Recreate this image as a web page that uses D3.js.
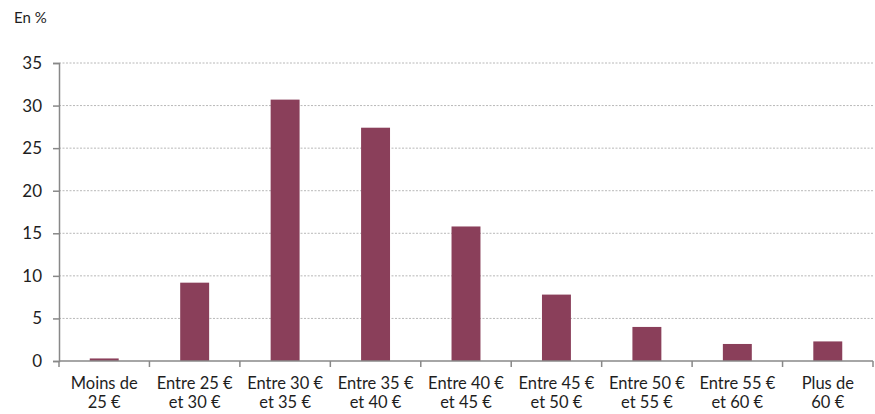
<!DOCTYPE html>
<html>
<head>
<meta charset="utf-8">
<script src="https://cdn.jsdelivr.net/npm/d3@7"></script>
<style>
  body { margin: 0; background: #fff; }
  text { font-family: Lato, "Open Sans", sans-serif; fill: #1e1e1e; }
</style>
</head>
<body>
<script>
const w = 875;
const h = 414;
const margin = {top: 63, right: 2, bottom: 53, left: 59};

const categories = ["Moins de|25 €", "Entre 25 €|et 30 €", "Entre 30 €|et 35 €", "Entre 35 €|et 40 €",
                    "Entre 40 €|et 45 €", "Entre 45 €|et 50 €", "Entre 50 €|et 55 €", "Entre 55 €|et 60 €", "Plus de|60 €"];
const values = [0.3, 9.2, 30.7, 27.4, 15.8, 7.8, 4.0, 2.0, 2.3];
const yTicks = [0, 5, 10, 15, 20, 25, 30, 35];

const xScale = d3.scaleBand()
                 .domain(categories)
                 .range([margin.left, w - margin.right])
                 .paddingInner(0.68)
                 .paddingOuter(0.34);

const yScale = d3.scaleLinear()
                 .domain([0, 35])
                 .range([h - margin.bottom, margin.top]);

const svg = d3.select("body")
              .append("svg")
              .attr("width", w)
              .attr("height", h);

// gridlines
svg.append("g")
   .selectAll("line")
   .data(yTicks.filter(d => d > 0))
   .enter()
   .append("line")
   .attr("x1", margin.left)
   .attr("x2", w - margin.right)
   .attr("y1", d => yScale(d))
   .attr("y2", d => yScale(d))
   .attr("stroke", "#b8b8b8")
   .attr("stroke-width", 1)
   .attr("stroke-dasharray", "2,1.5");

svg.selectAll("rect")
   .data(values)
   .enter()
   .append("rect")
   .attr("x", (d, i) => xScale(categories[i]))
   .attr("width", xScale.bandwidth())
   .attr("y", d => yScale(d))
   .attr("height", d => yScale(0) - yScale(d))
   .attr("fill", "#8a3f5a");

const yAxis = d3.axisLeft(yScale)
                .tickValues(yTicks)
                .tickSize(6)
                .tickPadding(11);

const gy = svg.append("g")
   .attr("transform", "translate(" + margin.left + ",0)")
   .call(yAxis);
gy.select(".domain").attr("stroke", "#888").attr("stroke-width", 1.5);
gy.selectAll(".tick line").attr("stroke", "#888").attr("stroke-width", 1.5);
gy.selectAll(".tick text").style("font-size", "17px");

// x axis: ticks at band boundaries
const xAxisG = svg.append("g")
   .attr("transform", "translate(0," + (h - margin.bottom) + ")");
xAxisG.append("line")
   .attr("x1", margin.left)
   .attr("x2", w - margin.right)
   .attr("stroke", "#888")
   .attr("stroke-width", 1.5);
const step = xScale.step();
xAxisG.selectAll(".xtick")
   .data(d3.range(categories.length + 1))
   .enter()
   .append("line")
   .attr("x1", i => margin.left + i * step)
   .attr("x2", i => margin.left + i * step)
   .attr("y1", 0)
   .attr("y2", 6)
   .attr("stroke", "#888")
   .attr("stroke-width", 1.5);

const labels = xAxisG.selectAll(".xlabel")
   .data(categories)
   .enter()
   .append("text")
   .attr("text-anchor", "middle")
   .attr("x", d => xScale(d) + xScale.bandwidth() / 2)
   .style("font-size", "16.5px");
labels.selectAll("tspan")
   .data(d => d.split("|"))
   .enter()
   .append("tspan")
   .attr("x", function() { return d3.select(this.parentNode).attr("x"); })
   .attr("y", (d, i) => 28 + i * 19)
   .text(d => d);

svg.append("text")
   .attr("x", 14)
   .attr("y", 23)
   .style("font-size", "15px")
   .text("En %");
</script>
</body>
</html>
